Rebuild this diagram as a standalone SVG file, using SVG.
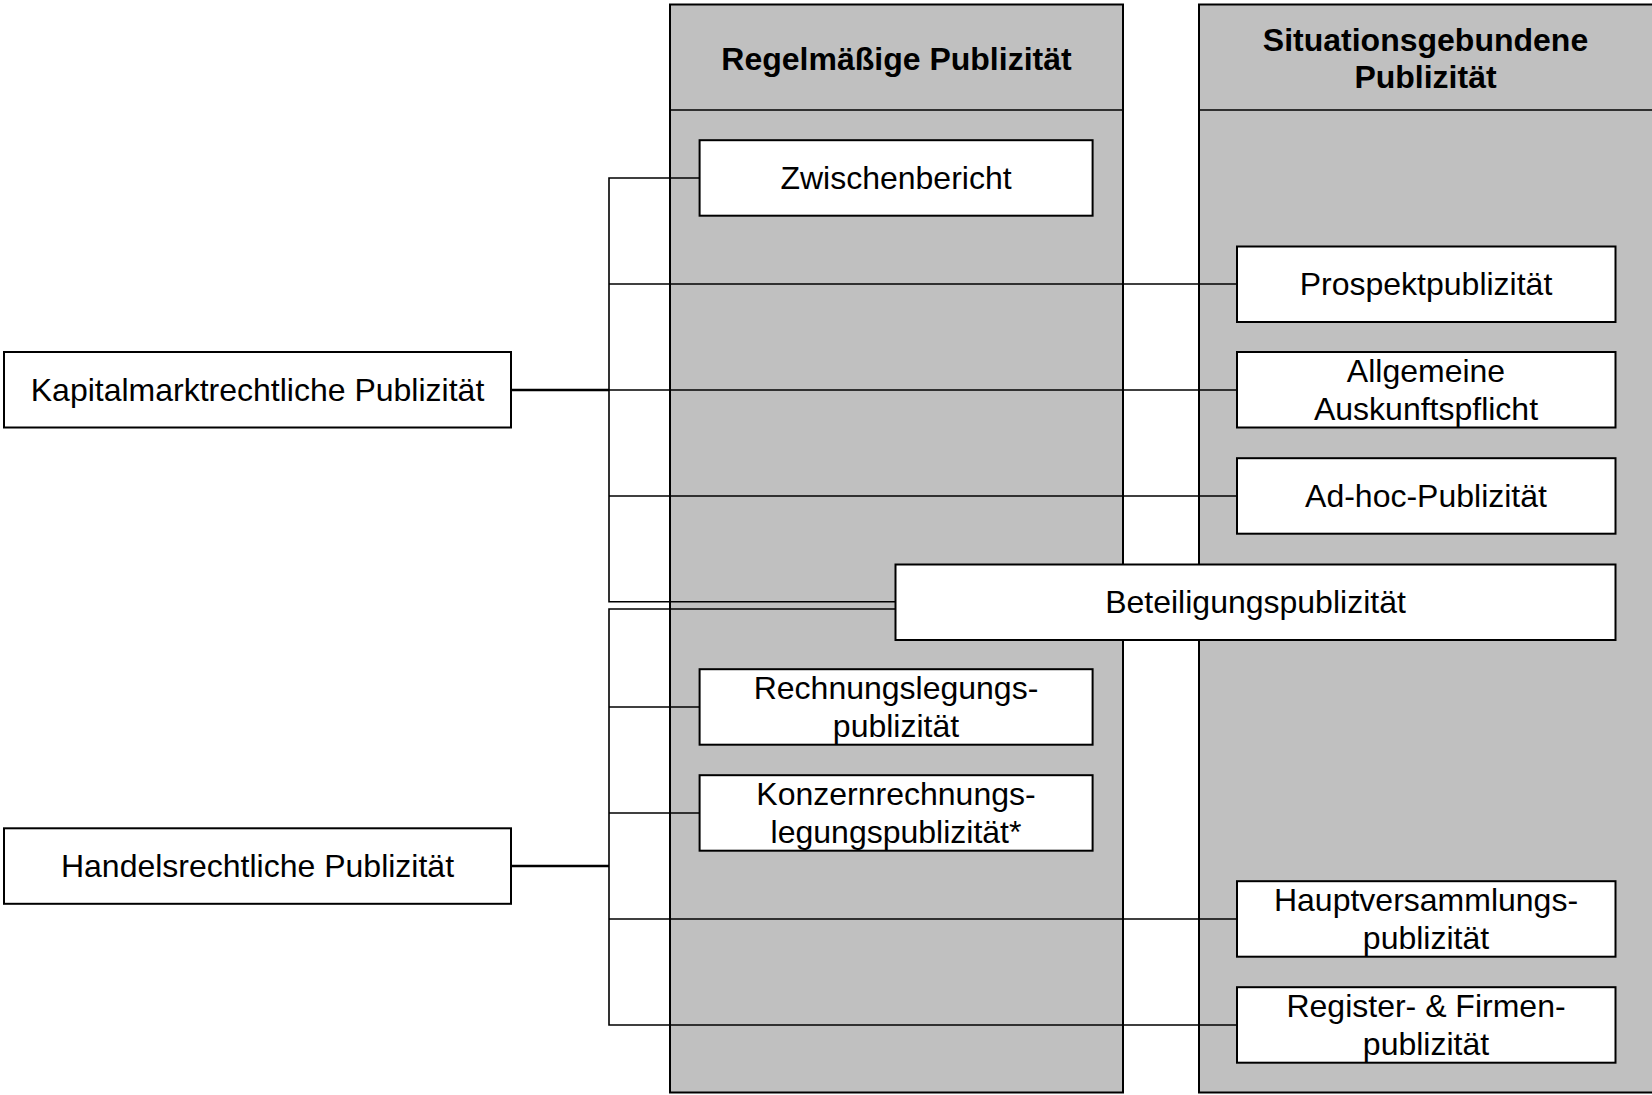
<svg xmlns="http://www.w3.org/2000/svg" width="1652" height="1095" viewBox="0 0 1652 1095">
<style>
.col{fill:#C0C0C0;stroke:#000;stroke-width:2}
.div{stroke:#000;stroke-width:1.5}
.box{fill:#fff;stroke:#000;stroke-width:2}
.t{font-family:"Liberation Sans",Arial,sans-serif;font-size:32px;fill:#000;text-anchor:middle}
.h{font-family:"Liberation Sans",Arial,sans-serif;font-size:32px;font-weight:bold;fill:#000;text-anchor:middle}
.ln{fill:none;stroke:#000;stroke-width:1.6}
.stem{fill:none;stroke:#000;stroke-width:2.6}
</style>
<rect width="1652" height="1095" fill="#fff"/>
<g id="col-regelmaessig">
<rect class="col" x="670" y="4.5" width="453" height="1088"/>
<line class="div" x1="670" y1="110" x2="1123" y2="110"/>
<text class="h" x="896.5" y="69.5">Regelmäßige Publizität</text>
</g>
<g id="col-situationsgebunden">
<rect class="col" x="1199" y="4.5" width="470" height="1088"/>
<line class="div" x1="1199" y1="110" x2="1652" y2="110"/>
<text class="h" x="1425.5" y="50.5">Situationsgebundene</text>
<text class="h" x="1425.5" y="87.5">Publizität</text>
</g>
<g id="connectors">
<path class="ln" d="M699.6,178 H609 V601.7 H895.5"/>
<path class="ln" d="M609,284 H1237"/>
<path class="ln" d="M609,390 H1237"/>
<path class="ln" d="M609,496 H1237"/>
<path class="ln" d="M895.5,609 H609 V1025 H1237"/>
<path class="ln" d="M609,707 H699.6"/>
<path class="ln" d="M609,813 H699.6"/>
<path class="ln" d="M609,919 H1237"/>
<path class="stem" d="M511,390 H609"/>
<path class="stem" d="M511,866 H609"/>
</g>
<g id="kapitalmarkt">
<rect class="box" x="4" y="352" width="507" height="75.5"/>
<text class="t" x="257.5" y="401">Kapitalmarktrechtliche Publizität</text>
</g>
<g id="handelsrecht">
<rect class="box" x="4" y="828.3" width="507" height="75.5"/>
<text class="t" x="257.5" y="877">Handelsrechtliche Publizität</text>
</g>
<g id="zwischenbericht">
<rect class="box" x="699.6" y="140.2" width="393" height="75.5"/>
<text class="t" x="896" y="189">Zwischenbericht</text>
</g>
<g id="prospekt">
<rect class="box" x="1237" y="246.5" width="378.5" height="75.5"/>
<text class="t" x="1426" y="295">Prospektpublizität</text>
</g>
<g id="auskunft">
<rect class="box" x="1237" y="352" width="378.5" height="75.5"/>
<text class="t" x="1426" y="382">Allgemeine</text>
<text class="t" x="1426" y="420">Auskunftspflicht</text>
</g>
<g id="adhoc">
<rect class="box" x="1237" y="458.2" width="378.5" height="75.5"/>
<text class="t" x="1426" y="507">Ad-hoc-Publizität</text>
</g>
<g id="beteiligung">
<rect class="box" x="895.5" y="564.5" width="720" height="75.5"/>
<text class="t" x="1255.5" y="613">Beteiligungspublizität</text>
</g>
<g id="rechnungslegung">
<rect class="box" x="699.6" y="669.2" width="393" height="75.5"/>
<text class="t" x="896" y="699">Rechnungslegungs-</text>
<text class="t" x="896" y="737">publizität</text>
</g>
<g id="konzern">
<rect class="box" x="699.6" y="775.2" width="393" height="75.5"/>
<text class="t" x="896" y="805">Konzernrechnungs-</text>
<text class="t" x="896" y="843">legungspublizität*</text>
</g>
<g id="hauptversammlung">
<rect class="box" x="1237" y="881.2" width="378.5" height="75.5"/>
<text class="t" x="1426" y="911">Hauptversammlungs-</text>
<text class="t" x="1426" y="949">publizität</text>
</g>
<g id="register">
<rect class="box" x="1237" y="987.2" width="378.5" height="75.5"/>
<text class="t" x="1426" y="1017">Register- &amp; Firmen-</text>
<text class="t" x="1426" y="1055">publizität</text>
</g>
</svg>
